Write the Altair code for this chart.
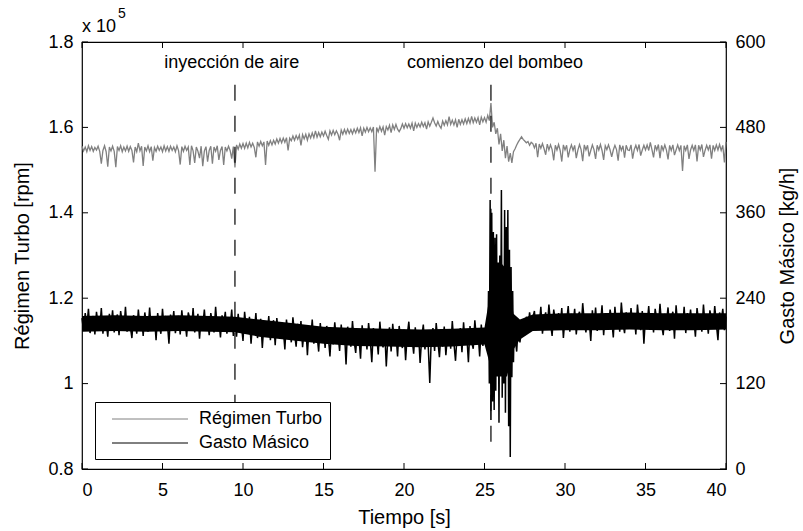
import altair as alt
import pandas as pd

# ---------------- data ----------------
# Régimen Turbo (x 1e5 rpm), sampled every 0.1 s from 0 to 40 s
turbo_rpm = [
    1.556,1.545,1.554,1.543,1.557,1.546,1.555,1.544,1.553,1.547,
    1.556,1.544,1.515,1.546,1.557,1.543,1.508,1.554,1.545,1.556,
    1.544,1.507,1.555,1.546,1.557,1.543,1.554,1.545,1.556,1.544,
    1.555,1.546,1.518,1.554,1.543,1.563,1.545,1.556,1.510,1.554,
    1.545,1.557,1.543,1.555,1.522,1.553,1.544,1.556,1.546,1.554,
    1.543,1.557,1.545,1.555,1.544,1.556,1.546,1.554,1.543,1.557,
    1.545,1.513,1.555,1.544,1.556,1.546,1.554,1.512,1.557,1.545,
    1.517,1.554,1.544,1.528,1.556,1.509,1.545,1.555,1.520,1.546,
    1.556,1.515,1.554,1.544,1.557,1.524,1.546,1.555,1.512,1.554,
    1.545,1.556,1.546,1.527,1.555,1.506,1.559,1.549,1.561,1.551,
    1.562,1.551,1.563,1.552,1.565,1.554,1.563,1.553,1.530,1.566,
    1.556,1.567,1.557,1.566,1.512,1.568,1.558,1.569,1.559,1.570,
    1.561,1.573,1.563,1.574,1.564,1.575,1.565,1.576,1.546,1.575,
    1.569,1.580,1.570,1.581,1.572,1.582,1.558,1.583,1.573,1.584,
    1.570,1.585,1.575,1.587,1.576,1.592,1.577,1.588,1.578,1.589,
    1.580,1.591,1.581,1.572,1.592,1.582,1.593,1.583,1.592,1.584,
    1.570,1.594,1.584,1.595,1.585,1.596,1.586,1.595,1.585,1.596,
    1.587,1.598,1.588,1.599,1.580,1.598,1.589,1.600,1.590,1.599,
    1.590,1.601,1.496,1.600,1.590,1.602,1.591,1.601,1.582,1.602,
    1.594,1.605,1.588,1.606,1.595,1.607,1.596,1.590,1.597,1.608,
    1.598,1.609,1.599,1.608,1.598,1.610,1.592,1.610,1.600,1.609,
    1.601,1.612,1.602,1.611,1.596,1.613,1.603,1.612,1.622,1.611,
    1.603,1.614,1.604,1.598,1.615,1.605,1.616,1.606,1.625,1.607,
    1.617,1.606,1.618,1.600,1.619,1.607,1.618,1.608,1.620,1.609,
    1.621,1.610,1.626,1.611,1.622,1.612,1.623,1.606,1.624,1.613,
    1.623,1.612,1.628,1.616,1.657,1.600,1.612,1.585,1.598,1.560,
    1.585,1.545,1.570,1.528,1.556,1.520,1.540,1.517,1.543,1.550,
    1.559,1.566,1.572,1.578,1.572,1.568,1.564,1.567,1.558,1.565,
    1.562,1.552,1.563,1.530,1.561,1.551,1.562,1.550,1.536,1.561,
    1.547,1.559,1.548,1.523,1.558,1.547,1.560,1.546,1.520,1.559,
    1.547,1.558,1.530,1.548,1.559,1.546,1.558,1.528,1.547,1.560,
    1.548,1.521,1.559,1.547,1.558,1.532,1.546,1.559,1.548,1.526,
    1.558,1.547,1.560,1.546,1.524,1.557,1.548,1.559,1.547,1.531,
    1.547,1.558,1.548,1.522,1.559,1.546,1.557,1.529,1.558,1.547,
    1.546,1.559,1.527,1.548,1.558,1.546,1.560,1.534,1.547,1.558,
    1.547,1.559,1.546,1.565,1.548,1.530,1.558,1.547,1.560,1.528,
    1.558,1.546,1.559,1.547,1.525,1.558,1.546,1.559,1.535,1.547,
    1.559,1.546,1.558,1.498,1.557,1.546,1.559,1.526,1.547,1.558,
    1.546,1.559,1.520,1.558,1.547,1.560,1.531,1.546,1.558,1.547,
    1.559,1.527,1.558,1.546,1.559,1.547,1.560,1.546,1.558,1.518,
    1.566,
]
turbo_t = [round(0.1 * i, 2) for i in range(len(turbo_rpm))]

# Gasto Másico (kg/h), by segments
gasto_a = [  # 0.0 - 9.4 s, every 0.1 s
    212,194,219,200,225,191,208,215,189,221,203,196,226,190,213,207,186,218,199,223,
    192,210,217,188,222,205,195,228,193,211,200,184,216,209,190,224,198,214,187,220,
    204,193,227,196,209,214,181,219,202,190,225,197,212,206,176,217,200,222,191,208,
    215,189,223,199,207,186,220,211,194,226,192,204,218,183,213,201,224,195,210,188,
    219,206,192,228,197,209,185,216,203,221,190,212,199,224,187,
]
gasto_b = [  # 9.5 - 25.2 s, every 0.1 s
    210,186,218,195,203,180,221,198,190,214,176,207,193,219,184,202,211,170,205,196,
    188,215,181,200,209,174,212,192,183,206,197,168,210,187,199,178,213,190,172,204,
    185,208,171,196,202,160,199,181,210,176,193,188,165,205,179,198,170,201,186,158,
    197,175,206,182,190,166,203,178,194,147,200,184,172,208,180,163,196,186,155,202,
    177,193,168,205,183,150,198,174,189,161,207,180,171,195,144,186,199,165,204,178,
    190,158,201,181,170,196,153,188,207,175,184,162,199,173,192,149,185,203,168,194,
    176,121,189,198,166,205,180,157,193,172,200,160,187,195,169,208,177,152,190,183,
    198,164,206,175,188,150,201,179,169,209,184,192,158,203,173,196,181,170,
]
gasto_c = [  # 25.25 - 26.85 s, every 0.05 s (bombeo)
    250,120,378,69,360,95,333,83,325,110,330,140,280,65,300,150,392,
    100,250,120,364,79,340,140,364,60,308,17,284,129,250,150,215,
]
gasto_d = [  # 26.9 - 28.0 s, every 0.1 s
    185,165,205,178,196,210,188,214,197,220,203,212,
]
gasto_e = [  # 28.1 - 40.0 s, every 0.1 s
    222,195,216,203,228,190,212,220,198,231,205,187,224,209,196,219,201,226,184,213,
    207,229,193,218,202,225,189,214,221,197,233,206,192,217,210,180,223,199,227,194,
    215,203,230,188,219,208,196,224,211,185,228,200,216,193,234,205,191,220,213,198,
    226,202,217,189,231,207,195,222,176,214,204,229,197,219,192,225,210,199,232,203,
    188,218,206,227,194,213,221,183,230,201,216,209,196,228,191,219,205,224,198,212,
    186,226,208,217,193,231,202,215,190,223,211,197,229,204,181,220,207,225,195,214,
]
gasto_t = ([round(0.1 * i, 2) for i in range(len(gasto_a))]
           + [round(9.5 + 0.1 * i, 2) for i in range(len(gasto_b))]
           + [round(25.25 + 0.05 * i, 3) for i in range(len(gasto_c))]
           + [round(26.9 + 0.1 * i, 2) for i in range(len(gasto_d))]
           + [round(28.1 + 0.1 * i, 2) for i in range(len(gasto_e))])
gasto_kgh = gasto_a + gasto_b + gasto_c + gasto_d + gasto_e

# dense core of the Gasto Másico trace (kg/h)
core_t = [0, 2, 4, 6, 8, 9.5, 11, 13, 15, 17, 19, 21, 23, 25, 25.3,
          25.6, 26.0, 26.4, 26.8, 27.2, 28, 30, 32, 34, 36, 38, 40]
core_lo = [193, 194, 193, 194, 193, 192, 186, 181, 176, 173, 172, 171, 172, 175, 150,
           130, 130, 130, 168, 182, 194, 195, 195, 196, 195, 195, 196]
core_hi = [215, 216, 215, 216, 215, 214, 210, 205, 200, 198, 197, 196, 197, 199, 240,
           290, 290, 280, 218, 210, 217, 219, 219, 220, 219, 219, 219]

series_names = ["Régimen Turbo", "Gasto Másico"]
series_colors = ["#808080", "#000000"]

event_t = [9.5, 25.4]
event_top = [540, 540]
event_bottom = [25, 25]
label_t = [9.3, 25.65]
label_text = ["inyección de aire", "comienzo del bombeo"]

x_ticks = [0, 5, 10, 15, 20, 25, 30, 35, 40]
left_ticks = [0.8, 1.0, 1.2, 1.4, 1.6, 1.8]
right_ticks = [0, 120, 240, 360, 480, 600]

# ---------------- chart ----------------
W, H = 644, 427
FONT = "Liberation Sans"

df_turbo = pd.DataFrame({"t": turbo_t, "v": turbo_rpm, "serie": series_names[0]})
df_gasto = pd.DataFrame({"t": gasto_t, "v": gasto_kgh, "serie": series_names[1]})
df_core = pd.DataFrame({"t": core_t, "lo": core_lo, "hi": core_hi})
df_events = pd.DataFrame({"t": event_t, "top": event_top, "bottom": event_bottom})
df_labels = pd.DataFrame({"t": label_t, "text": label_text})
df_xt = pd.DataFrame({"t": x_ticks})
df_lt = pd.DataFrame({"v": left_ticks})
df_rt = pd.DataFrame({"v": right_ticks})

xscale = alt.Scale(domain=[0, 40], nice=False, zero=False)
lscale = alt.Scale(domain=[0.8, 1.8], nice=False, zero=False)
rscale = alt.Scale(domain=[0, 600], nice=False, zero=False)
color = alt.Color(
    "serie:N",
    scale=alt.Scale(domain=series_names, range=series_colors),
    legend=alt.Legend(
        title=None, orient="none", legendX=13, legendY=360,
        symbolType="M0,0H8", symbolSize=361, symbolStrokeWidth=1,
        labelFontSize=18, labelFont=FONT, labelColor="black",
        labelOffset=77, padding=7, rowPadding=5,
        strokeColor="black", fillColor="white", cornerRadius=0,
    ),
    sort=series_names,
)

xaxis = alt.Axis(values=x_ticks, ticks=False, domain=False, grid=False,
                 labelFontSize=18, labelFont=FONT, labelColor="black",
                 labelPadding=12, title="Tiempo [s]", titleFontSize=20,
                 titleFont=FONT, titleColor="black", titleFontWeight="normal",
                 titlePadding=8)

turbo = alt.Chart(df_turbo).mark_line(strokeWidth=1.3).encode(
    x=alt.X("t:Q", scale=xscale, axis=xaxis),
    y=alt.Y("v:Q", scale=lscale, axis=alt.Axis(
        orient="left", values=left_ticks, format="~g", ticks=False, domain=False,
        grid=False, labelFontSize=18, labelFont=FONT, labelColor="black",
        labelPadding=9, title="Régimen Turbo [rpm]", titleFontSize=20,
        titleFont=FONT, titleColor="black", titleFontWeight="normal",
        titlePadding=15)),
    color=color,
    order="t:Q",
)

gasto = alt.Chart(df_gasto).mark_line(strokeWidth=1.5).encode(
    x=alt.X("t:Q", scale=xscale),
    y=alt.Y("v:Q", scale=rscale, axis=alt.Axis(
        orient="right", values=right_ticks, ticks=False, domain=False,
        grid=False, labelFontSize=18, labelFont=FONT, labelColor="black",
        labelPadding=9, title="Gasto Másico [kg/h]", titleFontSize=20,
        titleFont=FONT, titleColor="black", titleFontWeight="normal",
        titleAngle=270, titleBaseline="top", titlePadding=12)),
    color=color,
    order="t:Q",
)

core = alt.Chart(df_core).mark_area(color="black", opacity=1).encode(
    x=alt.X("t:Q", scale=xscale),
    y=alt.Y("hi:Q", scale=rscale, axis=None),
    y2="lo:Q",
)

events = alt.Chart(df_events).mark_rule(color="black", strokeWidth=1.2,
                                        strokeDash=[16, 15]).encode(
    x=alt.X("t:Q", scale=xscale),
    y=alt.Y("top:Q", scale=rscale, axis=None),
    y2="bottom:Q",
)

labels = alt.Chart(df_labels).mark_text(
    fontSize=18, font=FONT, color="black", align="center", baseline="alphabetic"
).encode(
    x=alt.X("t:Q", scale=xscale),
    y=alt.value(26),
    text="text:N",
)

tick_style = dict(color="black", strokeWidth=1)
xt_bottom = alt.Chart(df_xt).mark_rule(**tick_style).encode(
    x=alt.X("t:Q", scale=xscale), y=alt.value(H), y2=alt.value(H - 6))
xt_top = alt.Chart(df_xt).mark_rule(**tick_style).encode(
    x=alt.X("t:Q", scale=xscale), y=alt.value(0), y2=alt.value(6))
lt = alt.Chart(df_lt).mark_rule(**tick_style).encode(
    y=alt.Y("v:Q", scale=lscale, axis=None), x=alt.value(0), x2=alt.value(6))
rt = alt.Chart(df_rt).mark_rule(**tick_style).encode(
    y=alt.Y("v:Q", scale=rscale, axis=None), x=alt.value(W), x2=alt.value(W - 6))

exp_base = alt.Chart(pd.DataFrame({"s": ["x 10"]})).mark_text(
    fontSize=18, font=FONT, color="black", align="left", baseline="alphabetic"
).encode(x=alt.value(0), y=alt.value(-10), text="s:N")
exp_sup = alt.Chart(pd.DataFrame({"s": ["5"]})).mark_text(
    fontSize=14, font=FONT, color="black", align="left", baseline="alphabetic"
).encode(x=alt.value(36), y=alt.value(-24), text="s:N")

chart = alt.layer(
    turbo, gasto, core, events, labels, xt_bottom, xt_top, lt, rt, exp_base, exp_sup
).resolve_scale(y="independent").properties(
    width=W, height=H,
    autosize=alt.AutoSizeParams(type="none"),
    padding={"left": 82, "top": 42, "right": 77, "bottom": 62},
    background="white",
).configure_view(stroke="black", strokeWidth=1.2)

chart.save("out.html", embed_options={"renderer": "svg", "actions": False})
